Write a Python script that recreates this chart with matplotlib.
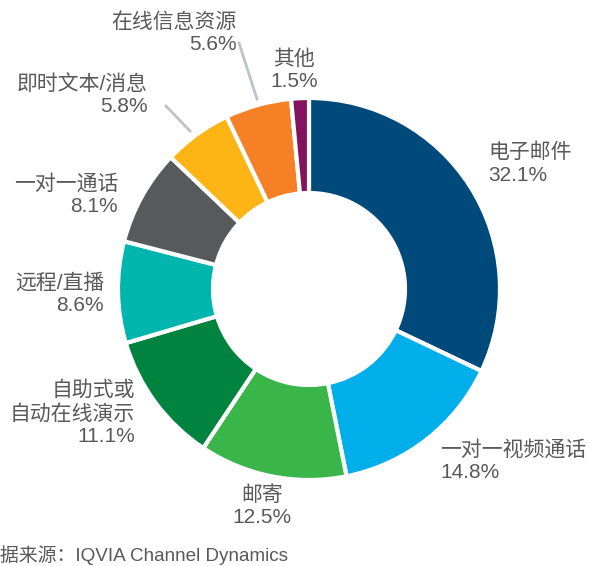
import matplotlib
matplotlib.use("Agg")
import matplotlib.pyplot as plt

categories = ["电子邮件", "一对一视频通话", "邮寄", "自助式或\n自动在线演示", "远程/直播",
              "一对一通话", "即时文本/消息", "在线信息资源", "其他"]
values = [32.1, 14.8, 12.5, 11.1, 8.6, 8.1, 5.8, 5.6, 1.5]
colors = ["#004a7b", "#00aeea", "#39b54a", "#00833e", "#00b5ad",
          "#58595b", "#fdb515", "#f58025", "#85125e"]
source = "数据来源：IQVIA Channel Dynamics"

W, H = 590, 566
fig = plt.figure(figsize=(W / 100, H / 100), dpi=100)
ax = fig.add_axes([0, 0, 1, 1])

cx, cy = 309, H - 289
R = 191
ax.pie(values, colors=colors, startangle=90, counterclock=False,
       center=(cx, cy), radius=R, frame=True,
       wedgeprops=dict(width=95, edgecolor="white", linewidth=3))
ax.set_xlim(0, W)
ax.set_ylim(0, H)
ax.set_aspect("equal")
ax.axis("off")

tc = "#595959"
fam = ["Liberation Sans", "Noto Sans CJK SC"]
fs = 15
# (x, y, ha) in pixel coordinates (y from top)
label_pos = [(488, 164, "left"), (440, 461, "left"), (262, 506, "center"),
             (135, 413, "right"), (104, 294, "right"), (118, 195, "right"),
             (148, 95, "right"), (237, 33, "right"), (294, 70, "center")]
for cat, v, (x, y, ha) in zip(categories, values, label_pos):
    ax.text(x, H - y, f"{cat}\n{v}%", ha=ha, va="center", multialignment=ha,
            fontsize=fs, color=tc, family=fam, linespacing=1.25)

# leader lines
ax.plot([239, 257], [H - 43, H - 99], color="#bfc3c8", lw=2)
ax.plot([166, 190], [H - 106, H - 131], color="#bfc3c8", lw=2)

ax.text(-19, H - 555, source, ha="left", va="center", fontsize=13.6,
        color=tc, family=fam)

fig.savefig("out.png", dpi=100)
